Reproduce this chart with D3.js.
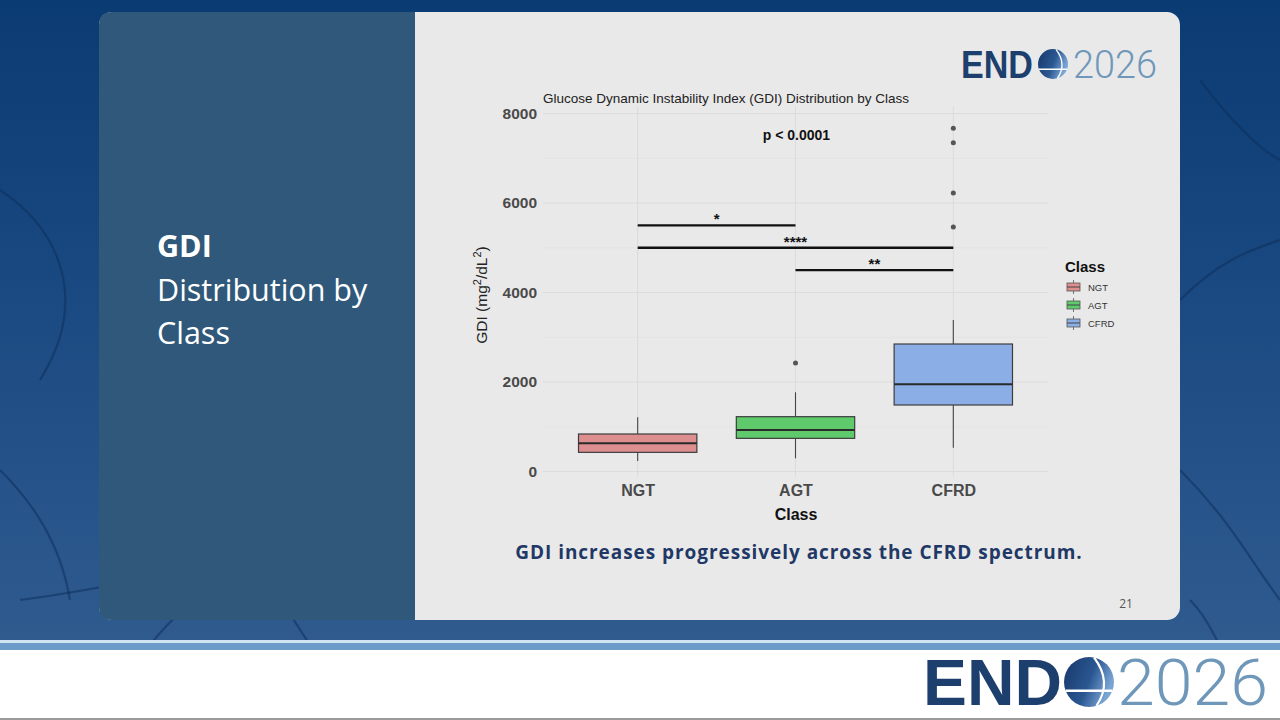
<!DOCTYPE html>
<html><head><meta charset="utf-8">
<script src="https://cdn.jsdelivr.net/npm/d3@7"></script>
<style>html,body{margin:0;padding:0;background:#fff;}svg{display:block;}</style>
</head><body>
<svg id="c" width="1280" height="720"></svg>
<script>
// ---- data ----
const categories = ["NGT", "AGT", "CFRD"];
const whiskerLow  = [235, 294, 533];
const q1          = [428, 741, 1486];
const medians     = [630, 927, 1948];
const q3          = [838, 1225, 2849];
const whiskerHigh = [1211, 1770, 3385];
const outlierCat  = ["AGT", "CFRD", "CFRD", "CFRD", "CFRD"];
const outlierVal  = [2425, 7669, 7348, 6223, 5464];
const yTicks      = [0, 2000, 4000, 6000, 8000];
const yMinor      = [1000, 3000, 5000, 7000];
const sigFrom     = ["NGT", "NGT", "AGT"];
const sigTo       = ["AGT", "CFRD", "CFRD"];
const sigValue    = [5500, 5000, 4500];
const sigLabel    = ["*", "****", "**"];
const globalP     = "p < 0.0001";
const globalPValue = 7500;
const fills = ["#dd8e8f", "#5fca6c", "#8caee7"];

const svg = d3.select("#c");
const font = "'Liberation Sans', Arial, sans-serif";

// ---- slide background ----
const defs = svg.append("defs");
const bg = defs.append("linearGradient").attr("id","bg").attr("x1",0).attr("y1",0).attr("x2",0).attr("y2",1);
bg.append("stop").attr("offset","0").attr("stop-color","#0b3b73");
bg.append("stop").attr("offset","0.5").attr("stop-color","#1c4a82");
bg.append("stop").attr("offset","1").attr("stop-color","#2f5b8f");
svg.append("rect").attr("width",1280).attr("height",645).attr("fill","url(#bg)");
const veins = [
  "M0,190 C60,230 90,300 40,380", "M20,600 C100,590 180,570 260,560", "M260,560 C280,600 300,630 310,645",
  "M1180,300 C1220,260 1250,250 1280,240", "M1180,470 C1230,520 1250,560 1280,600",
  "M1200,80 C1230,120 1260,150 1280,160", "M150,645 C170,620 190,600 220,590",
  "M1190,600 C1210,620 1215,640 1220,645", "M0,470 C30,500 60,540 70,600"
];
svg.append("g").selectAll("path").data(veins).join("path").attr("d",d=>d)
  .attr("fill","none").attr("stroke","#0d2f5c").attr("stroke-opacity",0.55).attr("stroke-width",2.2);

// bottom band
svg.append("rect").attr("x",0).attr("y",640).attr("width",1280).attr("height",3).attr("fill","#cfe3f2");
svg.append("rect").attr("x",0).attr("y",643).attr("width",1280).attr("height",7).attr("fill","#6c9ac9");
svg.append("rect").attr("x",0).attr("y",650).attr("width",1280).attr("height",68).attr("fill","#ffffff");
svg.append("rect").attr("x",0).attr("y",718).attr("width",1280).attr("height",2).attr("fill","#9a9a9a");

// card
svg.append("rect").attr("x",99).attr("y",12).attr("width",1081).attr("height",608).attr("rx",13).attr("fill","#e9e9e9");
svg.append("path").attr("d","M415,12 L112,12 Q99,12 99,25 L99,607 Q99,620 112,620 L415,620 Z").attr("fill","#30587a");

// left panel text
const lt = svg.append("text").attr("font-family","'Open Sans', 'Noto Sans', sans-serif").attr("fill","#ffffff").attr("font-size",30.5);
lt.append("tspan").attr("x",157).attr("y",257).attr("font-weight",700).text("GDI");
lt.append("tspan").attr("x",157).attr("y",301).text("Distribution by");
lt.append("tspan").attr("x",157).attr("y",344).text("Class");

// logo helper
let logoId = 0;
function logo(o) {
  const g = svg.append("g");
  g.append("text").attr("x",o.x0).attr("y",o.base).attr("font-family","'Liberation Sans', Arial, sans-serif")
    .attr("font-weight",700).attr("font-size",o.fs).attr("fill","#1d3f6e")
    .attr("textLength",o.endW).attr("lengthAdjust","spacingAndGlyphs").text("END");
  const id = "glb" + (logoId++);
  const gg = defs.append("linearGradient").attr("id",id).attr("x1",0).attr("y1",0).attr("x2",1).attr("y2",0.4);
  gg.append("stop").attr("offset","0").attr("stop-color","#17376a");
  gg.append("stop").attr("offset","0.6").attr("stop-color","#2a5791");
  gg.append("stop").attr("offset","1").attr("stop-color","#7aa6d6");
  const cx = o.gx, cy = o.gy, r = o.r;
  g.append("circle").attr("cx",cx).attr("cy",cy).attr("r",r).attr("fill",`url(#${id})`);
  const ly = cy + r*0.35, lh = Math.sqrt(r*r - (r*0.35)*(r*0.35));
  g.append("line").attr("x1",cx-lh).attr("x2",cx+lh).attr("y1",ly).attr("y2",ly).attr("stroke","#fff").attr("stroke-width",o.sw);
  g.append("path").attr("d",`M${cx+r*0.2},${cy-r*0.98} Q${cx+r*0.95},${cy} ${cx+r*0.3},${cy+r*0.95}`)
    .attr("fill","none").attr("stroke","#fff").attr("stroke-width",o.sw*0.9);
  g.append("text").attr("x",o.x2).attr("y",o.base).attr("font-family","Roboto, 'Open Sans', sans-serif")
    .attr("font-weight",300).attr("font-size",o.fs).attr("fill","#6f97b9")
    .attr("textLength",o.w2).attr("lengthAdjust","spacingAndGlyphs").text("2026");
}
logo({x0:961, base:78, fs:39, endW:72, gx:1053, gy:64, r:15, sw:1.5, x2:1073, w2:84});
logo({x0:923, base:705, fs:65, endW:139, gx:1089, gy:682, r:25, sw:2.4, x2:1117, w2:151});

// ---- chart ----
const x = d3.scalePoint().domain(categories).range([543, 1048]).padding(0.6);
const step = x.step();
const y = d3.scaleLinear().domain([0, 8000]).range([471.5, 113.5]);
const panelTop = y(8150), panelBot = y(-120);

const grid = svg.append("g");
grid.selectAll("line.mn").data(yMinor).join("line").attr("x1",543).attr("x2",1048)
  .attr("y1",d=>y(d)).attr("y2",d=>y(d)).attr("stroke","#e2e2e2").attr("stroke-width",0.8);
grid.selectAll("line.mj").data(yTicks).join("line").attr("x1",543).attr("x2",1048)
  .attr("y1",d=>y(d)).attr("y2",d=>y(d)).attr("stroke","#dcdcdc").attr("stroke-width",1.1);
grid.selectAll("line.vx").data(categories).join("line").attr("x1",d=>x(d)).attr("x2",d=>x(d))
  .attr("y1",panelTop).attr("y2",panelBot).attr("stroke","#dcdcdc").attr("stroke-width",1.1);

// title
svg.append("text").attr("x",543).attr("y",103).attr("font-family",font).attr("font-size",13.5)
  .attr("fill","#222").text("Glucose Dynamic Instability Index (GDI) Distribution by Class");

// y axis
const yAxis = d3.axisLeft(y).tickValues(yTicks).tickSize(0).tickPadding(6).tickFormat(d3.format("d"));
const ya = svg.append("g").attr("transform","translate(543,0)").call(yAxis);
ya.select(".domain").remove();
ya.selectAll("text").attr("font-family",font).attr("font-size",15.5).attr("font-weight",700).attr("fill","#4a4a4a");

// x axis
const xAxis = d3.axisBottom(x).tickSize(0).tickPadding(8);
const xa = svg.append("g").attr("transform",`translate(0,${panelBot})`).call(xAxis);
xa.select(".domain").remove();
xa.selectAll("text").attr("font-family",font).attr("font-size",16).attr("font-weight",700).attr("fill","#4a4a4a");

// axis titles
svg.append("text").attr("x",796).attr("y",520).attr("text-anchor","middle").attr("font-family",font)
  .attr("font-size",16).attr("font-weight",700).attr("fill","#111").text("Class");
const yt = svg.append("text").attr("transform","translate(487,295) rotate(-90)").attr("text-anchor","middle")
  .attr("font-family",font).attr("font-size",15.5).attr("fill","#222");
yt.append("tspan").text("GDI (mg");
yt.append("tspan").attr("baseline-shift","super").attr("font-size",11).text("2");
yt.append("tspan").text("/dL");
yt.append("tspan").attr("baseline-shift","super").attr("font-size",11).text("2");
yt.append("tspan").text(")");

// boxes
const bw = step * 0.75;
const boxes = svg.append("g");
categories.forEach((c, i) => {
  const cx = x(c);
  const g = boxes.append("g");
  g.append("line").attr("x1",cx).attr("x2",cx).attr("y1",y(whiskerHigh[i])).attr("y2",y(q3[i])).attr("stroke","#444").attr("stroke-width",1.1);
  g.append("line").attr("x1",cx).attr("x2",cx).attr("y1",y(q1[i])).attr("y2",y(whiskerLow[i])).attr("stroke","#444").attr("stroke-width",1.1);
  g.append("rect").attr("x",cx-bw/2).attr("width",bw).attr("y",y(q3[i])).attr("height",y(q1[i])-y(q3[i]))
    .attr("fill",fills[i]).attr("stroke","#3d3d3d").attr("stroke-width",1.2);
  g.append("line").attr("x1",cx-bw/2).attr("x2",cx+bw/2).attr("y1",y(medians[i])).attr("y2",y(medians[i]))
    .attr("stroke","#2a2a2a").attr("stroke-width",2);
});
svg.append("g").selectAll("circle").data(outlierVal).join("circle")
  .attr("cx",(d,i)=>x(outlierCat[i])).attr("cy",d=>y(d)).attr("r",2.5).attr("fill","#555");

// significance
const sig = svg.append("g");
sigValue.forEach((v,i) => {
  sig.append("line").attr("x1",x(sigFrom[i])).attr("x2",x(sigTo[i])).attr("y1",y(v)).attr("y2",y(v))
    .attr("stroke","#111").attr("stroke-width",2.4);
  sig.append("text").attr("x",(x(sigFrom[i])+x(sigTo[i]))/2).attr("y",y(v)-1).attr("text-anchor","middle")
    .attr("font-family",font).attr("font-size",15).attr("font-weight",700).attr("fill","#111").text(sigLabel[i]);
});
svg.append("text").attr("x",x("AGT")+1).attr("y",y(globalPValue)+4).attr("text-anchor","middle")
  .attr("font-family",font).attr("font-size",14).attr("font-weight",700).attr("fill","#111").text(globalP);

// legend
svg.append("text").attr("x",1065).attr("y",272).attr("font-family",font).attr("font-size",15).attr("font-weight",700)
  .attr("fill","#111").text("Class");
const leg = svg.append("g").attr("transform","translate(1067,280)");
categories.forEach((c,i) => {
  const g = leg.append("g").attr("transform",`translate(0,${i*18})`);
  g.append("line").attr("x1",6.5).attr("x2",6.5).attr("y1",0).attr("y2",14).attr("stroke","#555").attr("stroke-width",0.8);
  g.append("rect").attr("x",0).attr("y",3).attr("width",13).attr("height",8).attr("fill",fills[i]).attr("stroke","#555").attr("stroke-width",0.8);
  g.append("line").attr("x1",0).attr("x2",13).attr("y1",7).attr("y2",7).attr("stroke","#444").attr("stroke-width",1);
  g.append("text").attr("x",21).attr("y",10.5).attr("font-family",font).attr("font-size",9.5).attr("fill","#333").text(c);
});

// caption
svg.append("text").attr("x",799).attr("y",559).attr("text-anchor","middle").attr("font-family","'Open Sans', 'Noto Sans', sans-serif")
  .attr("font-size",19).attr("font-weight",700).attr("fill","#1f3866").attr("letter-spacing",0.95)
  .text("GDI increases progressively across the CFRD spectrum.");
svg.append("text").attr("x",1126).attr("y",608).attr("text-anchor","middle").attr("font-family","'Open Sans', sans-serif")
  .attr("font-size",12).attr("fill","#555").text("21");
</script>
</body></html>
